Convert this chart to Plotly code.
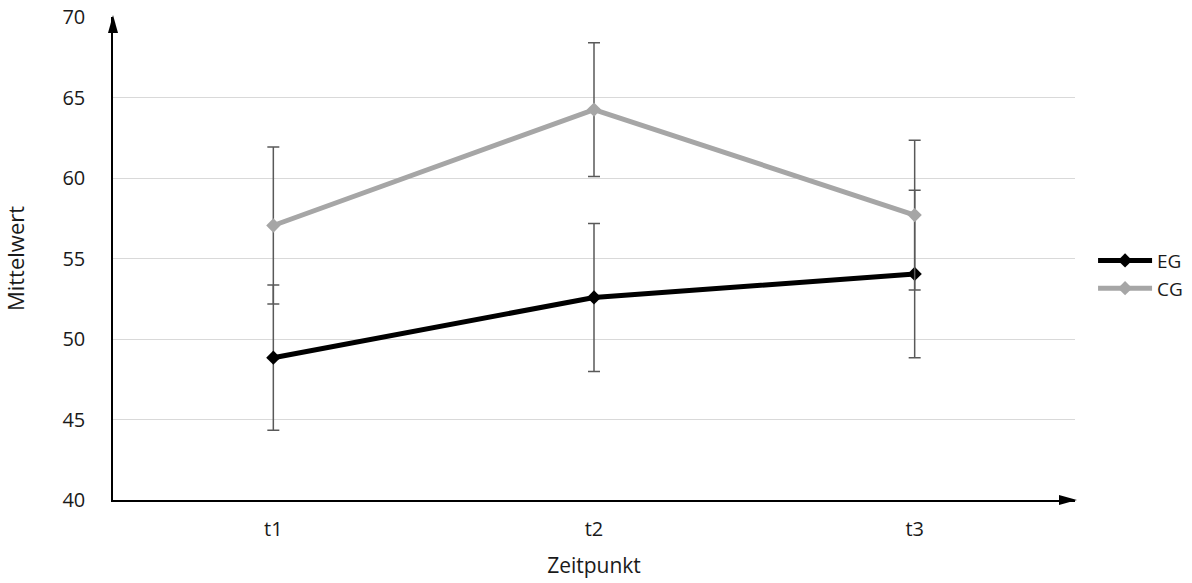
import plotly.graph_objects as go

categories = ["t1", "t2", "t3"]
eg_mean = [48.84, 52.58, 54.04]
eg_err = [4.51, 4.60, 5.20]
cg_mean = [57.05, 64.25, 57.70]
cg_err = [4.88, 4.15, 4.65]
y_ticks = [40, 45, 50, 55, 60, 65, 70]

FONT = "Open Sans"
TXT = "#1a1a1a"
xpos = list(range(len(categories)))

fig = go.Figure()
fig.add_trace(go.Scatter(
    x=xpos, y=eg_mean, name="EG", mode="lines+markers",
    line=dict(color="#000000", width=5),
    marker=dict(symbol="diamond", size=11, color="#000000"),
    error_y=dict(type="data", array=eg_err, visible=True, color="#595959", thickness=1.5, width=6),
))
fig.add_trace(go.Scatter(
    x=xpos, y=cg_mean, name="CG", mode="lines+markers",
    line=dict(color="#a6a6a6", width=5),
    marker=dict(symbol="diamond", size=11, color="#a6a6a6"),
    error_y=dict(type="data", array=cg_err, visible=True, color="#595959", thickness=1.5, width=6),
))

fig.update_layout(
    width=1192, height=583,
    margin=dict(l=113, r=117, t=17, b=83, autoexpand=False),
    paper_bgcolor="white", plot_bgcolor="white",
    font=dict(family=FONT, size=20, color=TXT),
    showlegend=True,
    legend=dict(xref="container", yref="container", x=0.917, y=0.529,
                xanchor="left", yanchor="middle",
                font=dict(family=FONT, size=19, color=TXT),
                itemwidth=54, bgcolor="rgba(0,0,0,0)"),
    xaxis=dict(range=[-0.5, 2.5], tickvals=xpos, ticktext=categories,
               showgrid=False, zeroline=False, showline=True, linecolor="black", linewidth=1.5,
               ticks="", ticklabelstandoff=10, automargin=False,
               tickfont=dict(family=FONT, size=20, color=TXT),
               title=dict(text="Zeitpunkt", font=dict(family=FONT, size=21, color=TXT), standoff=18)),
    yaxis=dict(range=[40, 70], tickvals=y_ticks,
               showgrid=True, gridcolor="#d9d9d9", gridwidth=1,
               zeroline=False, showline=True, linecolor="black", linewidth=1.5,
               ticks="", ticklabelstandoff=22, automargin=False,
               tickfont=dict(family=FONT, size=20, color=TXT),
               title=dict(text="Mittelwert", font=dict(family=FONT, size=22, color=TXT), standoff=36)),
)

# arrowheads at axis ends
fig.add_shape(type="path", xref="paper", yref="paper", xsizemode="pixel", ysizemode="pixel",
              xanchor=0, yanchor=1, path="M-5,-16 L0,2 L5,-16 Z",
              fillcolor="black", line=dict(color="black", width=0))
fig.add_shape(type="path", xref="paper", yref="paper", xsizemode="pixel", ysizemode="pixel",
              xanchor=1, yanchor=0, path="M-16,-5 L2,0 L-16,5 Z",
              fillcolor="black", line=dict(color="black", width=0))

fig.write_html("out.html")
